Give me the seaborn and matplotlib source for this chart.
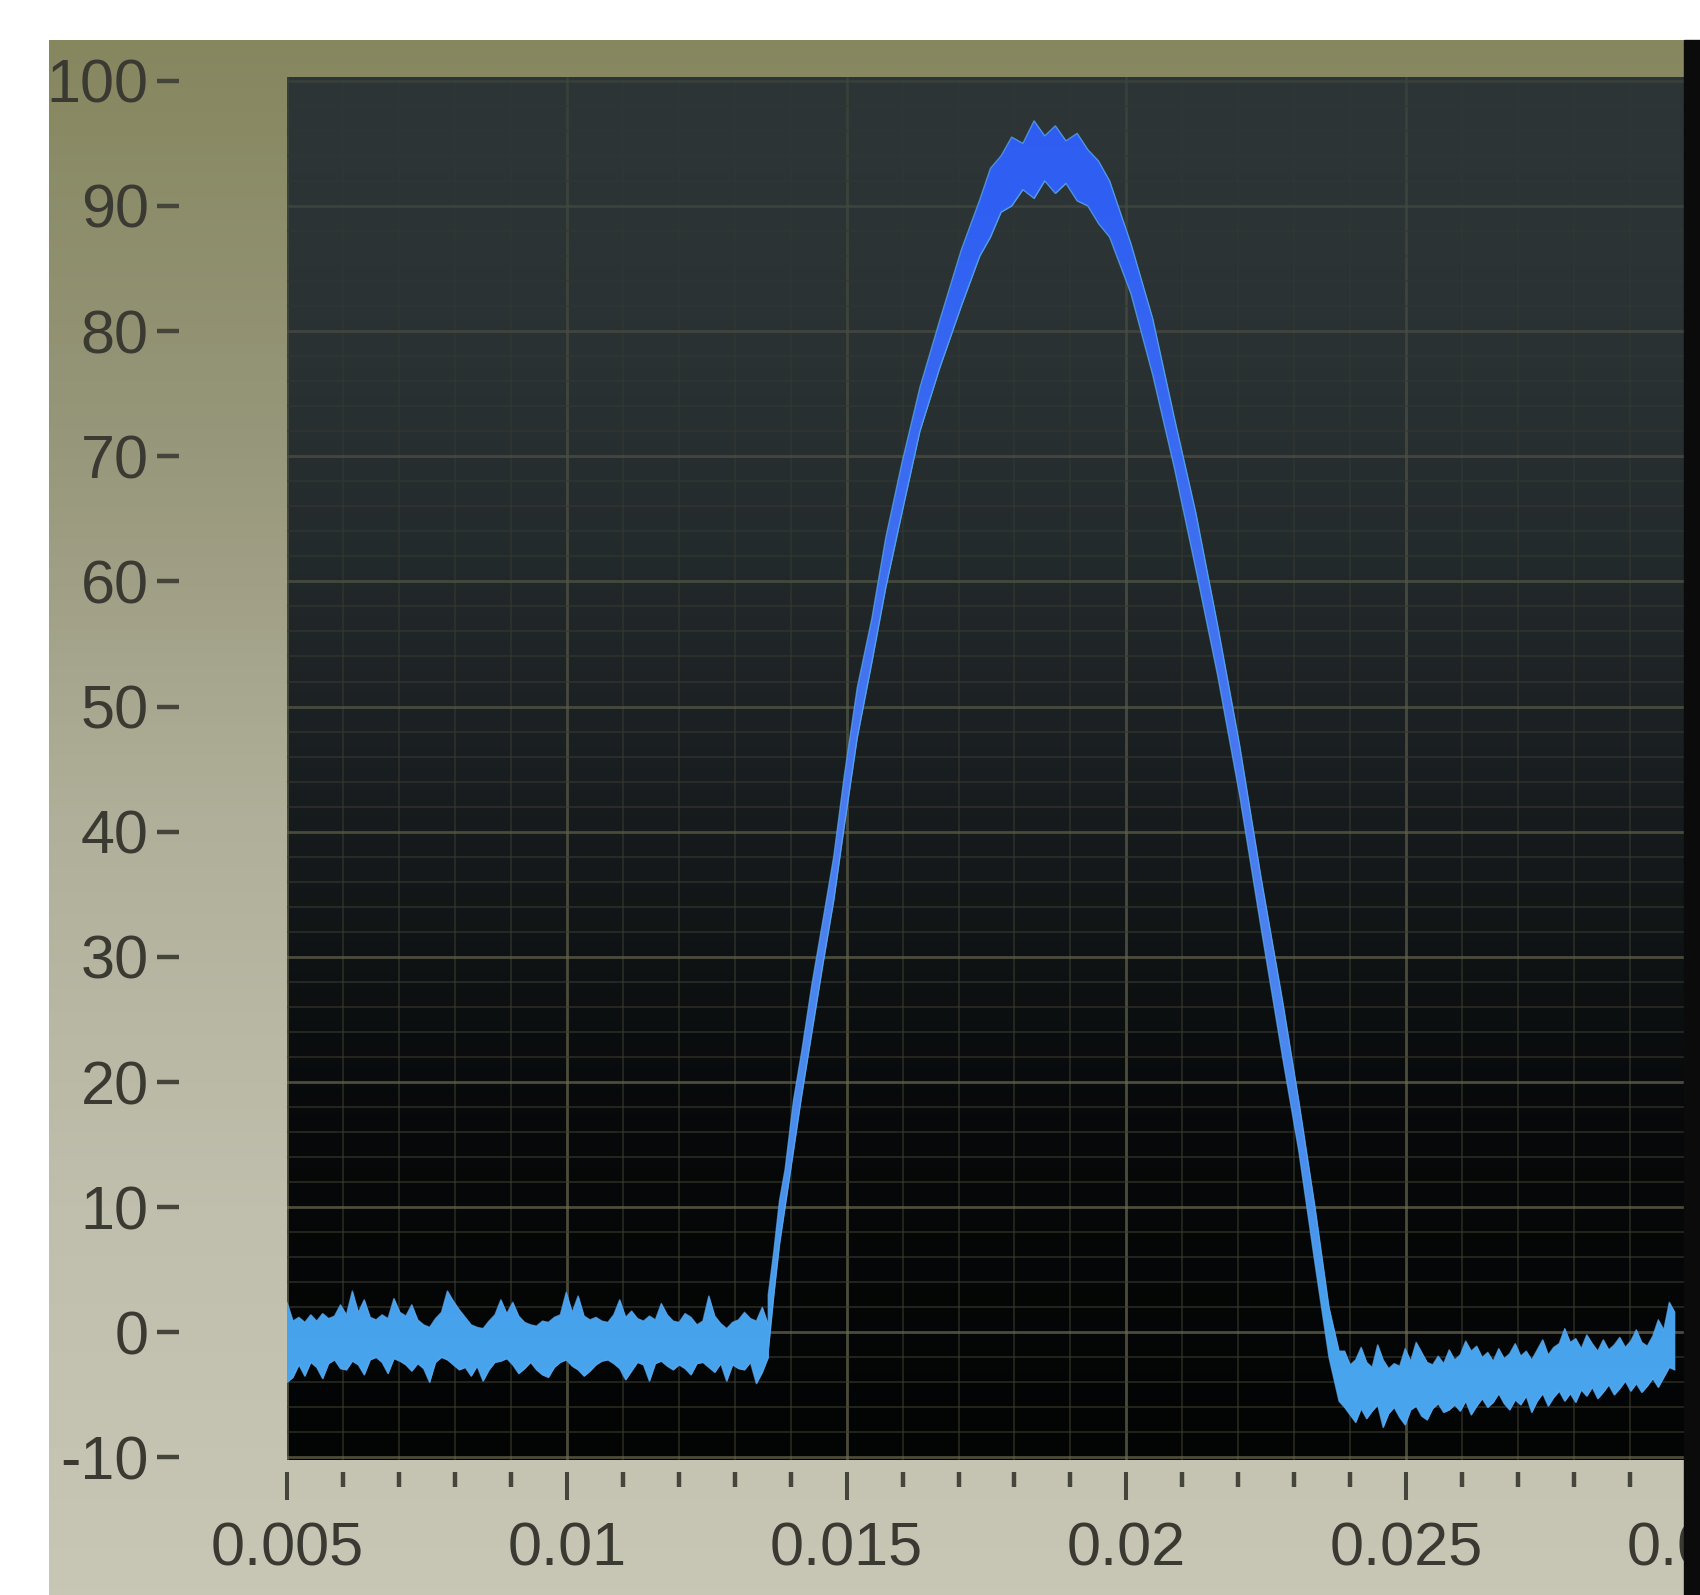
import numpy as np
import pandas as pd
import seaborn as sns
import matplotlib.pyplot as plt
from matplotlib.colors import LinearSegmentedColormap
from matplotlib.patches import Rectangle
from matplotlib.ticker import FixedLocator, FixedFormatter, MultipleLocator

# noisy baseline before the pulse (upper / lower edge of the trace)
left_start, left_end = 0.005, 0.0136
left_hi = [2.4, 0.9, 1.2, 0.8, 1.4, 0.9, 1.5, 1.1, 1.3, 2.2,
           1.4, 3.3, 1.6, 2.6, 1.2, 1.0, 1.4, 1.1, 2.7, 1.6,
           1.3, 2.2, 1.0, 0.6, 0.4, 1.1, 1.6, 3.3, 2.5, 1.8,
           1.2, 0.6, 0.4, 0.3, 0.9, 1.4, 2.6, 1.5, 2.4, 1.3,
           0.8, 0.6, 0.5, 0.9, 0.8, 1.2, 1.4, 3.2, 1.6, 2.9,
           1.3, 1.0, 1.2, 0.9, 0.8, 1.4, 2.6, 1.2, 1.7, 1.1,
           0.9, 1.3, 1.0, 2.3, 1.4, 0.9, 0.8, 1.5, 1.2, 0.6,
           0.9, 2.9, 1.3, 0.7, 0.3, 0.8, 1.0, 1.6, 1.1, 0.9,
           2.0, 0.6]
left_lo = [-4.0, -3.6, -2.6, -3.5, -2.4, -2.8, -3.7, -2.5, -2.2, -2.9,
           -3.0, -2.3, -2.6, -3.4, -2.2, -2.0, -2.4, -3.3, -2.1, -2.3,
           -2.6, -3.1, -2.5, -2.9, -4.0, -2.4, -2.0, -2.2, -2.6, -3.0,
           -2.8, -3.5, -2.7, -3.9, -3.0, -2.4, -2.3, -2.1, -2.6, -3.3,
           -2.9, -2.4, -3.0, -3.4, -3.6, -2.8, -2.4, -2.2, -2.7, -3.0,
           -3.5, -3.1, -2.6, -2.3, -2.2, -2.5, -2.9, -3.8, -3.1, -2.4,
           -2.6, -3.9, -2.5, -2.3, -2.7, -3.0, -2.6, -2.9, -3.4, -2.5,
           -2.4, -2.8, -3.2, -2.5, -3.9, -2.6, -2.9, -3.0, -2.4, -4.1,
           -3.2, -2.0]

# the pulse itself
pulse_t = [0.01360, 0.01370, 0.01380, 0.01390, 0.01405, 0.01420, 0.01438, 0.01458,
           0.01477, 0.01496, 0.01519, 0.01545, 0.01570, 0.01599, 0.01631, 0.01666,
           0.01705, 0.01738, 0.01757, 0.01776, 0.01795, 0.01815, 0.01835, 0.01854,
           0.01873, 0.01892, 0.01912, 0.01931, 0.01950, 0.01970, 0.02008, 0.02047,
           0.02086, 0.02124, 0.02163, 0.02202, 0.02240, 0.02279, 0.02308, 0.02337,
           0.02362, 0.02380]
pulse_hi = [3.0, 6.5, 10.5, 13.0, 18.5, 22.5, 27.8, 33.0, 38.0, 44.5, 51.5, 57.0,
            63.5, 69.5, 75.5, 80.8, 86.5, 90.5, 93.0, 94.0, 95.5, 95.0, 96.8, 95.6,
            96.4, 95.2, 95.8, 94.5, 93.6, 92.0, 87.0, 81.0, 73.0, 65.5, 56.5, 47.0,
            36.5, 26.5, 18.5, 10.0, 2.0, -1.5]
pulse_lo = [-1.5, 3.0, 7.0, 10.0, 14.5, 19.0, 24.0, 29.5, 34.5, 40.5, 47.5, 53.5,
            59.5, 65.5, 72.0, 77.0, 82.0, 86.0, 87.5, 89.5, 90.0, 91.3, 90.6, 92.0,
            91.0, 91.8, 90.4, 90.0, 88.6, 87.5, 83.0, 76.5, 69.0, 61.0, 52.5, 43.0,
            32.5, 22.0, 14.5, 5.5, -2.0, -5.5]

# noisy baseline after the pulse
right_start, right_end = 0.0239, 0.0298
right_hi = [-1.5, -2.6, -2.2, -1.2, -2.4, -2.8, -1.0, -2.2, -2.9, -2.5,
            -2.7, -1.3, -2.3, -0.8, -1.6, -2.4, -2.6, -1.9, -2.5, -1.4,
            -2.2, -1.8, -0.7, -1.5, -1.1, -2.0, -1.6, -2.3, -1.3, -2.1,
            -1.7, -0.9, -1.9, -1.5, -2.2, -1.4, -0.6, -1.8, -1.2, -0.9,
            0.3, -0.8, -0.5, -1.3, -0.2, -0.9, -1.5, -0.6, -1.4, -1.0,
            -0.4, -1.2, -0.7, 0.2, -0.8, -1.1, -0.3, 1.0, 0.2, 2.4,
            1.6]
right_lo = [-6.0, -6.6, -7.2, -6.1, -6.9, -6.3, -5.8, -7.6, -6.5, -6.0,
            -6.8, -7.4, -6.2, -5.9, -6.7, -7.0, -6.1, -5.7, -6.4, -6.2,
            -5.8, -6.3, -5.5, -6.6, -5.9, -5.3, -6.0, -5.6, -4.9, -5.7,
            -6.2, -5.4, -5.8, -5.1, -6.4, -5.5, -4.9, -5.9, -5.2, -4.7,
            -5.5, -4.9, -5.6, -4.6, -5.1, -4.4, -5.3, -4.8, -4.2, -5.0,
            -4.5, -3.9, -4.7, -4.1, -4.8, -4.3, -3.7, -4.4, -3.6, -2.8,
            -3.0]

x_ticks = [0.005, 0.01, 0.015, 0.02, 0.025, 0.03]
x_tick_labels = ["0.005", "0.01", "0.015", "0.02", "0.025", "0.03"]
y_ticks = [-10, 0, 10, 20, 30, 40, 50, 60, 70, 80, 90, 100]
y_tick_labels = ["-10", "0", "10", "20", "30", "40", "50", "60", "70", "80", "90", "100"]

trace = pd.concat([
    pd.DataFrame({"t": np.linspace(left_start, left_end, len(left_hi)), "hi": left_hi, "lo": left_lo}),
    pd.DataFrame({"t": pulse_t, "hi": pulse_hi, "lo": pulse_lo}),
    pd.DataFrame({"t": np.linspace(right_start, right_end, len(right_hi)), "hi": right_hi, "lo": right_lo}),
], ignore_index=True)

sns.set_theme(style="dark")
plt.rcParams["font.family"] = ["Liberation Sans", "DejaVu Sans"]

W, H = 1700, 1595


def box(x0, y0, x1, y1):
    # pixel box measured from the top-left corner -> figure fraction
    return [x0 / W, 1 - y1 / H, (x1 - x0) / W, (y1 - y0) / H]


fig = plt.figure(figsize=(W / 100, H / 100), dpi=100, facecolor="white")

# beige instrument panel behind the graph
beige = LinearSegmentedColormap.from_list(
    "beige", ["#86875f", "#96967a", "#b0af99", "#c0bfad", "#c8c7b6"])
panel = fig.add_axes(box(49, 40, W, H), zorder=-2)
panel.imshow(np.linspace(0, 1, 256)[:, None], aspect="auto", cmap=beige,
             extent=[0, 1, 0, 1])
panel.set_axis_off()

ax = fig.add_axes(box(287, 77, 1686, 1460))
xmin, xmax, ymin, ymax = 0.005, 0.03, -10.2, 100.3

screen = LinearSegmentedColormap.from_list(
    "screen", ["#030404", "#07090a", "#14181a", "#262d2f", "#313a3b"])
ax.imshow(np.linspace(0, 1, 256)[:, None], aspect="auto", cmap=screen,
          extent=[xmin, xmax, ymin, ymax], origin="lower", zorder=-1)

# glare from the photo washes out the grid towards the top
glare = np.zeros((256, 1, 4))
glare[:, 0, :3] = [0.17, 0.2, 0.21]
glare[:, 0, 3] = np.clip((np.linspace(0, 1, 256) - 0.25) / 0.75, 0, 1) * 0.7
ax.imshow(glare, aspect="auto", extent=[xmin, xmax, ymin, ymax], origin="lower",
          zorder=1)

# trace: filled noise band with a colour that shifts with height
band = ax.fill_between(trace["t"], trace["lo"], trace["hi"], color="#48a2ea",
                       lw=0, zorder=3)
trace_cmap = LinearSegmentedColormap.from_list(
    "trace", [(0.0, "#4aa8ef"), (0.1, "#47a2ec"), (0.2, "#4a8fee"),
              (0.45, "#4a7cf0"), (0.9, "#3060f2"), (1.0, "#2f5cf2")])
grad = ax.imshow(np.linspace(0, 1, 256)[:, None], aspect="auto", cmap=trace_cmap,
                 extent=[xmin, xmax, ymin, ymax], origin="lower", zorder=4)
grad.set_clip_path(band.get_paths()[0], ax.transData)
sns.lineplot(data=trace, x="t", y="hi", estimator=None, sort=False,
             color="#5aaaf0", lw=1.0, alpha=0.7, ax=ax, zorder=5)
sns.lineplot(data=trace, x="t", y="lo", estimator=None, sort=False,
             color="#5aaaf0", lw=1.0, alpha=0.7, ax=ax, zorder=5)

ax.set_xlim(xmin, xmax)
ax.set_ylim(ymin, ymax)
ax.set_xlabel("")
ax.set_ylabel("")

ax.xaxis.set_major_locator(FixedLocator(x_ticks))
ax.xaxis.set_major_formatter(FixedFormatter(x_tick_labels))
ax.xaxis.set_minor_locator(MultipleLocator(0.001))
ax.yaxis.set_major_locator(FixedLocator(y_ticks))
ax.yaxis.set_major_formatter(FixedFormatter(y_tick_labels))
ax.yaxis.set_minor_locator(MultipleLocator(2))

ax.set_axisbelow(True)
ax.grid(which="major", color="#6b6a50", lw=2.0, alpha=0.7)
ax.grid(which="minor", color="#3c3c30", lw=1.3, alpha=0.6)

for s in ax.spines.values():
    s.set_visible(False)
ax.spines["left"].set_position(("outward", 77.5))
ax.spines["bottom"].set_position(("outward", 8.6))

tick_col, label_col = "#45453b", "#3a3a32"
ax.tick_params(axis="x", which="major", bottom=True, direction="out", length=20,
               width=2.9, color=tick_col, pad=16, labelsize=44, labelcolor=label_col)
ax.tick_params(axis="x", which="minor", bottom=True, direction="out", length=11,
               width=3.2, color=tick_col)
ax.tick_params(axis="y", which="major", left=True, direction="out", length=16,
               width=3.2, color=tick_col, pad=6, labelsize=44, labelcolor=label_col)
ax.tick_params(axis="y", which="minor", left=False)

# dark photo edge on the right
fig.add_artist(Rectangle((1684 / W, 0), (W - 1684) / W, 1 - 40 / H,
                         transform=fig.transFigure, color="#0b0b0b", zorder=10))

fig.savefig("out.png", dpi=100, facecolor="white")
